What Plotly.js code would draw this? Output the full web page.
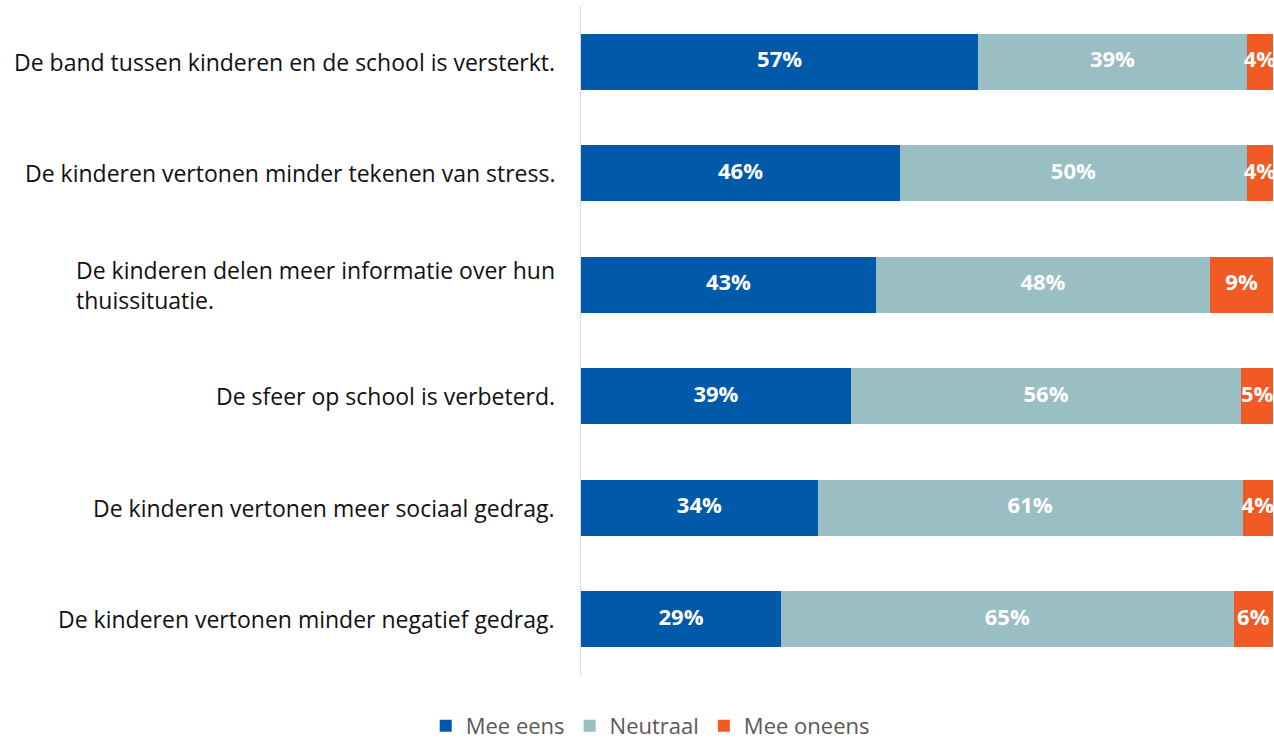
<!DOCTYPE html>
<html>
<head>
<meta charset="utf-8">
<script src="https://cdn.plot.ly/plotly-3.0.1.min.js"></script>
<style>html,body{margin:0;padding:0;background:#fff;}#chart{width:1274px;height:740px;}</style>
</head>
<body>
<div id="chart"></div>
<script>
const categories = [
  "De band tussen kinderen en de school is versterkt.",
  "De kinderen vertonen minder tekenen van stress.",
  "De kinderen delen meer informatie over hun<br>thuissituatie.",
  "De sfeer op school is verbeterd.",
  "De kinderen vertonen meer sociaal gedrag.",
  "De kinderen vertonen minder negatief gedrag."
];
const meeEens   = [57.4, 46.1, 42.6, 39.0, 34.2, 28.9];
const neutraal  = [38.8, 50.1, 48.3, 56.4, 61.4, 65.4];
const meeOneens = [3.8, 3.8, 9.1, 4.6, 4.4, 5.7];
const seriesNames = ["Mee eens", "Neutraal", "Mee oneens"];
const colors = ["#0059A9", "#99BEC4", "#F15A24"];

const FONT = "Open Sans, Noto Sans, sans-serif";
const allSeries = [meeEens, neutraal, meeOneens];

const barTraces = allSeries.map((vals, i) => ({
  type: "bar",
  orientation: "h",
  name: seriesNames[i],
  y: categories,
  x: vals,
  marker: {color: colors[i]},
  hoverinfo: "skip"
}));

// value labels placed at the middle of each stacked segment
const labelTraces = allSeries.map((vals, i) => {
  const mids = vals.map((v, j) => {
    let base = 0;
    for (let k = 0; k < i; k++) base += allSeries[k][j];
    return base + v / 2;
  });
  return {
    type: "scatter",
    mode: "text",
    x: mids,
    y: categories,
    text: vals.map(v => Math.round(v) + "%"),
    textposition: "middle center",
    textfont: {family: FONT, size: 22, color: "#ffffff", weight: "bold"},
    cliponaxis: false,
    showlegend: false,
    hoverinfo: "skip"
  };
});

const annotations = categories.map(c => ({
  xref: "paper", yref: "y", x: 0, y: c,
  xanchor: "right", yanchor: "middle", xshift: -24,
  align: "left", showarrow: false, text: c,
  font: {family: FONT, size: 23, color: "#111111"}
}));

const layout = {
  width: 1274, height: 740,
  margin: {l: 581, r: 1, t: 6, b: 65, autoexpand: false},
  barmode: "stack",
  bargap: 0.5,
  paper_bgcolor: "#fff", plot_bgcolor: "#fff",
  showlegend: true,
  legend: {
    orientation: "h", x: 0.1, xanchor: "center", y: -0.076, yanchor: "middle",
    font: {family: FONT, size: 22, color: "#595959"},
    traceorder: "normal", itemclick: false
  },
  xaxis: {range: [0, 100], showgrid: false, zeroline: false, showticklabels: false, showline: false, fixedrange: true},
  yaxis: {autorange: "reversed", showticklabels: false, showline: true, linecolor: "#d9d9d9", linewidth: 1.5, showgrid: false, zeroline: false, ticks: "", fixedrange: true},
  annotations: annotations
};

Plotly.newPlot("chart", barTraces.concat(labelTraces), layout, {displayModeBar: false, staticPlot: true});
</script>
</body>
</html>
